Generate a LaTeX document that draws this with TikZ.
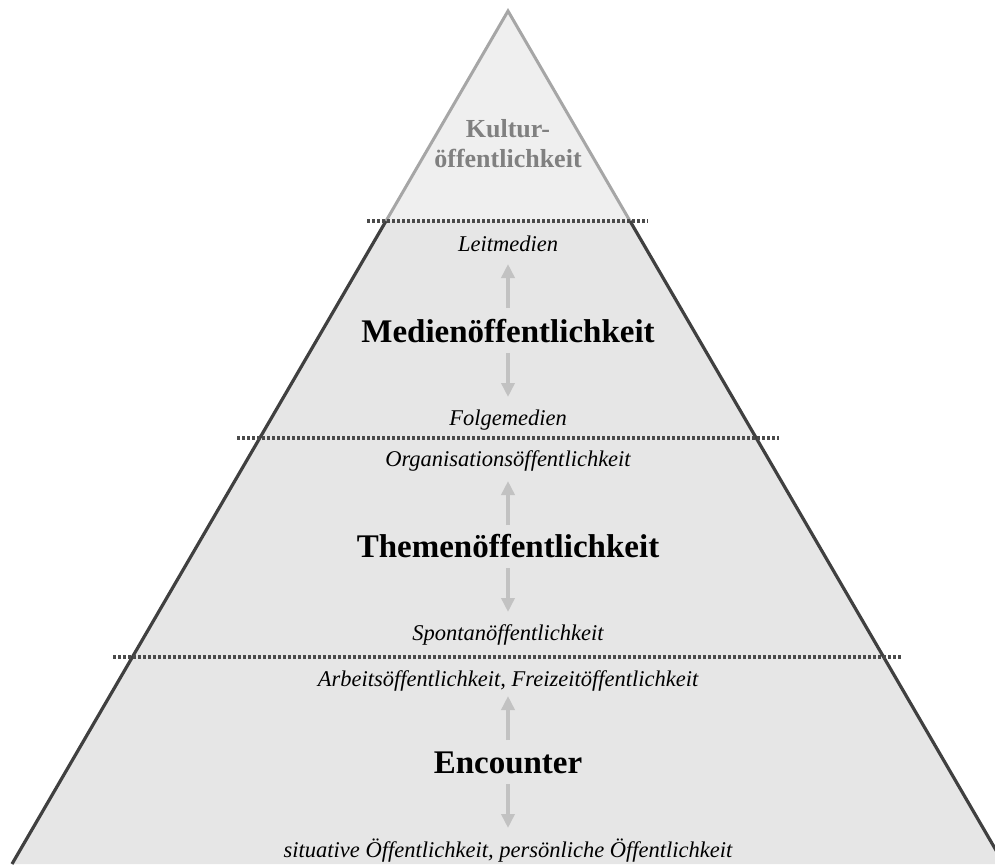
\documentclass[tikz,border=0pt]{standalone}
\usepackage{fontspec}
\setmainfont{Liberation Serif}
\usetikzlibrary{arrows.meta}
\definecolor{topfill}{HTML}{EFEFEF}
\definecolor{topline}{HTML}{A6A6A6}
\definecolor{lowfill}{HTML}{E6E6E6}
\definecolor{lowline}{HTML}{404040}
\definecolor{dotcol}{HTML}{4A4A4A}
\definecolor{arrcol}{HTML}{C2C2C2}
\definecolor{kultcol}{HTML}{808080}
\tikzset{
  small/.style={anchor=base, inner sep=0pt, font=\fontsize{22.5}{27}\selectfont\itshape},
  big/.style={anchor=base, inner sep=0pt, font=\fontsize{33}{40}\selectfont\bfseries},
  kult/.style={anchor=base, inner sep=0pt, text=kultcol, font=\fontsize{26}{31}\selectfont\bfseries},
  arr/.style={draw=arrcol, line width=4.5pt, -{Triangle[length=14pt,width=13pt]}},
  sep/.style={draw=dotcol, line width=3.6pt, dash pattern=on 3pt off 2pt},
}
\begin{document}
\begin{tikzpicture}[x=1pt,y=-1pt]
\useasboundingbox (0,0) rectangle (995,864);
\clip (0,0) rectangle (995,864);
% pyramid geometry
\coordinate (apex) at (508,11);
\coordinate (tl) at (386,221);
\coordinate (tr) at (630,221);
\coordinate (bl) at (12,864);
\coordinate (br) at (1004,864);
% fills
\fill[lowfill] (tl) -- (bl) -- (br) -- (tr) -- cycle;
\fill[topfill] (apex) -- (tl) -- (tr) -- cycle;
% outlines
\draw[topline, line width=3pt, line join=miter] (tl) -- (apex) -- (tr);
\draw[lowline, line width=3.2pt] (tl) -- (bl);
\draw[lowline, line width=3.2pt] (tr) -- (br);
% dotted separators
\coordinate (s1a) at (367,221); \coordinate (s1b) at (648,221);
\coordinate (s2a) at (237,438); \coordinate (s2b) at (779,438);
\coordinate (s3a) at (113,657); \coordinate (s3b) at (902,657);
\draw[sep] (s1a) -- (s1b);
\draw[sep] (s2a) -- (s2b);
\draw[sep] (s3a) -- (s3b);
% Kultur
\node[kult] (k1) at (508,138) {Kultur-};
\node[kult] (k2) at (508,167) {öffentlichkeit};
% Medien
\node[small] (leit) at (508,251) {Leitmedien};
\node[big] (medien) at (508,342) {Medienöffentlichkeit};
\node[small] (folge) at (508,425) {Folgemedien};
\coordinate (a1s) at (508,308); \coordinate (a1e) at (508,264);
\coordinate (a2s) at (508,353); \coordinate (a2e) at (508,397);
\draw[arr] (a1s) -- (a1e);
\draw[arr] (a2s) -- (a2e);
% Themen
\node[small] (orga) at (508,466) {Organisationsöffentlichkeit};
\node[big] (themen) at (508,557) {Themenöffentlichkeit};
\node[small] (spontan) at (508,640) {Spontanöffentlichkeit};
\coordinate (a3s) at (508,525); \coordinate (a3e) at (508,481);
\coordinate (a4s) at (508,568); \coordinate (a4e) at (508,612);
\draw[arr] (a3s) -- (a3e);
\draw[arr] (a4s) -- (a4e);
% Encounter
\node[small] (arbeit) at (508,686) {Arbeitsöffentlichkeit, Freizeitöffentlichkeit};
\node[big] (enc) at (508,773) {Encounter};
\node[small] (situ) at (508,857) {situative Öffentlichkeit, persönliche Öffentlichkeit};
\coordinate (a5s) at (508,740); \coordinate (a5e) at (508,696);
\coordinate (a6s) at (508,784); \coordinate (a6e) at (508,828);
\draw[arr] (a5s) -- (a5e);
\draw[arr] (a6s) -- (a6e);
\end{tikzpicture}
\end{document}
